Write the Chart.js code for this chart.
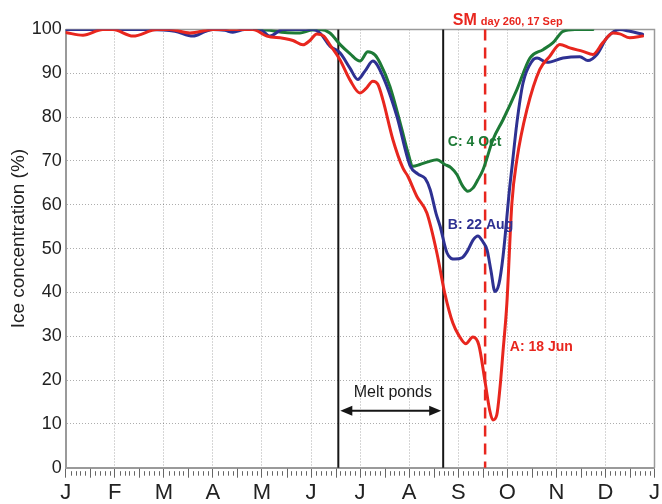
<!DOCTYPE html>
<html>
<head>
<meta charset="utf-8">
<script src="https://cdn.jsdelivr.net/npm/chart.js@4.4.1/dist/chart.umd.min.js"></script>
<style>
  html, body { margin: 0; padding: 0; background: #fff; }
  #wrap { width: 662px; height: 504px; }
</style>
</head>
<body>
<div id="wrap"><canvas id="chart" width="662" height="504"></canvas></div>
<script>
// Month letters along the day-of-year axis (equal spacing, one per month start)
const monthLabels = ['J', 'F', 'M', 'A', 'M', 'J', 'J', 'A', 'S', 'O', 'N', 'D', 'J'];
const yTickValues = [0, 10, 20, 30, 40, 50, 60, 70, 80, 90, 100];
const yTitle = 'Ice concentration (%)';

// A: 18 Jun
const redDays = [0, 10.7, 23, 29.3, 41.7, 56.6, 64.6, 77, 91.3, 116, 124.7, 134.6, 140.9, 147.1, 151.4, 155.7, 160, 163.8,
  170, 176.2, 182.4, 186.1, 190.4, 193.5, 196.6, 202.8, 209, 212.1, 217.7, 223.9, 230.1, 235, 240, 243.7, 248, 252.4,
  256.1, 259.8, 262.9, 264.8, 267.2, 269.1, 271, 273.5, 276.6, 279.7, 285.9, 293.9, 300.1, 306.3, 312.5, 320.6, 326.8,
  333, 339.2, 343.5, 349.7, 357.6];
const redIce = [99.3, 98.7, 100, 100, 98.5, 100, 100, 99.2, 100, 100, 98.5, 98, 97.5, 96.5, 97.5, 99, 98.5, 96.5,
  93.1, 88.5, 85.5, 86.5, 88.2, 87.5, 84, 74.9, 68.4, 66.5, 61.9, 58.1, 49, 39.8, 33, 30.2, 28.3, 29.8,
  28, 20, 13, 10.9, 12, 17.8, 26.1, 37.6, 60.4, 70.3, 81.7, 90.9, 93.9, 96.6, 95.8, 95, 94.3,
  97, 99.2, 99, 98.1, 98.5];

// B: 22 Aug
const blueDays = [0, 21, 52, 67.7, 78.9, 86.3, 91.3, 98.7, 103.6, 111, 120.4, 126.6, 134.6, 153.2, 157.6, 163.8,
  170, 176.2, 181.1, 185.5, 190.4, 196.6, 205.3, 213.4, 218.4, 222.8, 225.9, 229.6, 232.1, 236.4, 241.3, 245.7,
  248.8, 252.6, 255.5, 258.7, 261.2, 263.6, 266.1, 268.6, 271.1, 275.3, 276.6, 279.7, 283.5, 289.1, 292.2, 298.4,
  308.3, 318.7, 323.7, 329.3, 335.5, 343.5, 349.7, 357.6];
const blueIce = [100, 100, 100, 99.6, 98.5, 99.5, 100, 99.8, 99.4, 100, 100, 98.5, 100, 100, 99.2, 96.2,
  94.7, 91.2, 88.6, 90.5, 92.8, 89.3, 80.2, 69, 67, 66, 63.5, 58, 55.1, 49, 47.6, 47.9,
  49.3, 52, 52.9, 51.5, 49.7, 45, 40.2, 42, 48.2, 64.2, 68.4, 78.7, 87.8, 92.8, 93.5, 92.5,
  93.5, 93.8, 92.9, 94.3, 98.1, 100, 99.6, 98.9];

// C: 4 Oct
const greenDays = [117, 126.6, 135.9, 145.2, 151.4, 157.6, 163.8, 170, 176.2, 182.4, 187.3, 191.7, 194.8, 201,
  208.4, 212.1, 215.2, 219.6, 224.5, 230.1, 235, 238.8, 242.5, 246.2, 249.3, 252.4, 255.5, 258.7, 264.9, 271.1,
  279.7, 287.8, 295.9, 302.1, 308.3, 315.7, 326.8];
const greenIce = [100, 99.8, 99.3, 99.2, 99.8, 100, 99.2, 96.6, 94.5, 92.8, 94.9, 94.2, 92.4, 87,
  77.2, 72, 68.8, 69.2, 69.8, 70.3, 69.2, 68.5, 66.9, 64.2, 63.1, 63.8, 65.7, 68, 74.9, 79.4,
  86.3, 93.5, 95.4, 97, 99.6, 100, 100];

// Melt-pond period (18 Jun to 22 Aug) and the SM date (day 260)
const meltStartDay = 169;
const meltEndDay = 234;
const smDay = 260;

const RED = '#e8261e';
const BLUE = '#2e3192';
const GREEN = '#1d7a36';
const FONT = "'Liberation Sans', Arial, Helvetica, sans-serif";
const GRID = 'rgba(0,0,0,0.32)';
const monthTickDays = monthLabels.map((_, i) => i * 365 / 12);

const pairs = (xs, ys) => xs.map((d, i) => ({ x: d, y: ys[i] }));

// Frame, minor ticks, axis title, period lines, arrow and labels
const overlay = {
  id: 'overlay',
  beforeDatasetsDraw(chart) {
    const { ctx, chartArea: a, scales: { x, y } } = chart;
    ctx.save();
    ctx.strokeStyle = '#9a9a9a';
    ctx.lineWidth = 1.5;
    ctx.beginPath();
    ctx.moveTo(a.left, a.top);
    ctx.lineTo(a.right, a.top);
    ctx.lineTo(a.right, a.bottom);
    ctx.stroke();

    // minor ticks: tenths of a month, taller at mid-month
    ctx.strokeStyle = '#666';
    ctx.lineWidth = 1;
    for (let m = 0; m < 12; m++) {
      for (let k = 1; k < 10; k++) {
        const px = Math.round(x.getPixelForValue((m + k / 10) * 365 / 12)) + 0.5;
        const y0 = a.bottom + (k === 5 ? 1 : 3.5);
        const y1 = a.bottom + (k === 5 ? 10 : 8);
        ctx.beginPath();
        ctx.moveTo(px, y0);
        ctx.lineTo(px, y1);
        ctx.stroke();
      }
    }

    // vertical axis title
    ctx.save();
    ctx.translate(19, (a.top + a.bottom) / 2 - 10);
    ctx.rotate(-Math.PI / 2);
    ctx.textAlign = 'center';
    ctx.textBaseline = 'middle';
    ctx.fillStyle = '#222';
    ctx.font = '19px ' + FONT;
    ctx.fillText(yTitle, 0, 0);
    ctx.restore();

    const top = y.getPixelForValue(100);
    const bottom = y.getPixelForValue(0);
    ctx.strokeStyle = '#161616';
    ctx.lineWidth = 2;
    [meltStartDay, meltEndDay].forEach(d => {
      const px = x.getPixelForValue(d);
      ctx.beginPath();
      ctx.moveTo(px, bottom);
      ctx.lineTo(px, top);
      ctx.stroke();
    });

    ctx.strokeStyle = RED;
    ctx.lineWidth = 2.5;
    ctx.setLineDash([11, 7]);
    const sx = x.getPixelForValue(smDay);
    ctx.beginPath();
    ctx.moveTo(sx, top);
    ctx.lineTo(sx, bottom);
    ctx.stroke();
    ctx.restore();
  },
  afterDatasetsDraw(chart) {
    const { ctx, scales: { x, y } } = chart;
    ctx.save();

    // double-headed arrow across the melt-pond period
    const ay = y.getPixelForValue(13);
    const ax0 = x.getPixelForValue(meltStartDay) + 2;
    const ax1 = x.getPixelForValue(meltEndDay) - 2;
    ctx.strokeStyle = '#161616';
    ctx.fillStyle = '#161616';
    ctx.lineWidth = 2;
    ctx.beginPath();
    ctx.moveTo(ax0 + 8, ay);
    ctx.lineTo(ax1 - 8, ay);
    ctx.stroke();
    ctx.beginPath();
    ctx.moveTo(ax0, ay); ctx.lineTo(ax0 + 12, ay - 5); ctx.lineTo(ax0 + 12, ay + 5); ctx.closePath();
    ctx.fill();
    ctx.beginPath();
    ctx.moveTo(ax1, ay); ctx.lineTo(ax1 - 12, ay - 5); ctx.lineTo(ax1 - 12, ay + 5); ctx.closePath();
    ctx.fill();

    ctx.textBaseline = 'middle';
    ctx.textAlign = 'center';
    ctx.font = '16px ' + FONT;
    ctx.fillStyle = '#1a1a1a';
    ctx.fillText('Melt ponds', x.getPixelForValue(202.8), y.getPixelForValue(17.1));

    ctx.textAlign = 'left';
    ctx.font = 'bold 14px ' + FONT;
    ctx.fillStyle = GREEN;
    ctx.fillText('C: 4 Oct', x.getPixelForValue(236.9), y.getPixelForValue(74.4));
    ctx.fillStyle = BLUE;
    ctx.fillText('B: 22 Aug', x.getPixelForValue(236.9), y.getPixelForValue(55.4));
    ctx.fillStyle = RED;
    ctx.fillText('A: 18 Jun', x.getPixelForValue(275.3), y.getPixelForValue(27.6));

    // SM heading above the dashed line
    ctx.textBaseline = 'alphabetic';
    const hx = x.getPixelForValue(240);
    const hy = y.getPixelForValue(101.1);
    ctx.font = 'bold 16px ' + FONT;
    ctx.fillText('SM', hx, hy);
    const w = ctx.measureText('SM').width;
    ctx.font = 'bold 11px ' + FONT;
    ctx.fillText('day 260, 17 Sep', hx + w + 4, hy);
    ctx.restore();
  }
};

new Chart(document.getElementById('chart'), {
  type: 'line',
  data: {
    datasets: [
      { label: 'A: 18 Jun', data: pairs(redDays, redIce), borderColor: RED },
      { label: 'B: 22 Aug', data: pairs(blueDays, blueIce), borderColor: BLUE },
      { label: 'C: 4 Oct', data: pairs(greenDays, greenIce), borderColor: GREEN }
    ]
  },
  options: {
    responsive: false,
    animation: false,
    devicePixelRatio: 1,
    layout: { padding: { left: 0, right: 7, top: 29.5, bottom: 0 } },
    plugins: { legend: { display: false }, tooltip: { enabled: false } },
    elements: {
      point: { radius: 0 },
      line: { borderWidth: 3, cubicInterpolationMode: 'monotone', borderCapStyle: 'round', borderJoinStyle: 'round', fill: false }
    },
    scales: {
      x: {
        type: 'linear',
        min: 0,
        max: 365,
        afterBuildTicks: s => { s.ticks = monthTickDays.map(v => ({ value: v })); },
        afterFit: s => { s.height = 36.3; },
        ticks: {
          autoSkip: false, maxRotation: 0, minRotation: 0, padding: 2,
          color: '#222', font: { family: FONT, size: 22 },
          callback: (v, i) => monthLabels[i]
        },
        grid: { color: GRID, lineWidth: 1, tickLength: 10, tickColor: '#666', tickWidth: 1, tickBorderDash: [] },
        border: { display: true, color: '#9a9a9a', width: 2, dash: [1, 2] }
      },
      y: {
        min: 0,
        max: 100,
        afterBuildTicks: s => { s.ticks = yTickValues.map(v => ({ value: v })); },
        afterFit: s => { s.width = 65.7; },
        ticks: { padding: 4, color: '#222', font: { family: FONT, size: 18 } },
        grid: { drawTicks: false, color: GRID, lineWidth: 1 },
        border: { display: true, color: '#9a9a9a', width: 2, dash: [1, 2] }
      }
    }
  },
  plugins: [overlay]
});
</script>
</body>
</html>
